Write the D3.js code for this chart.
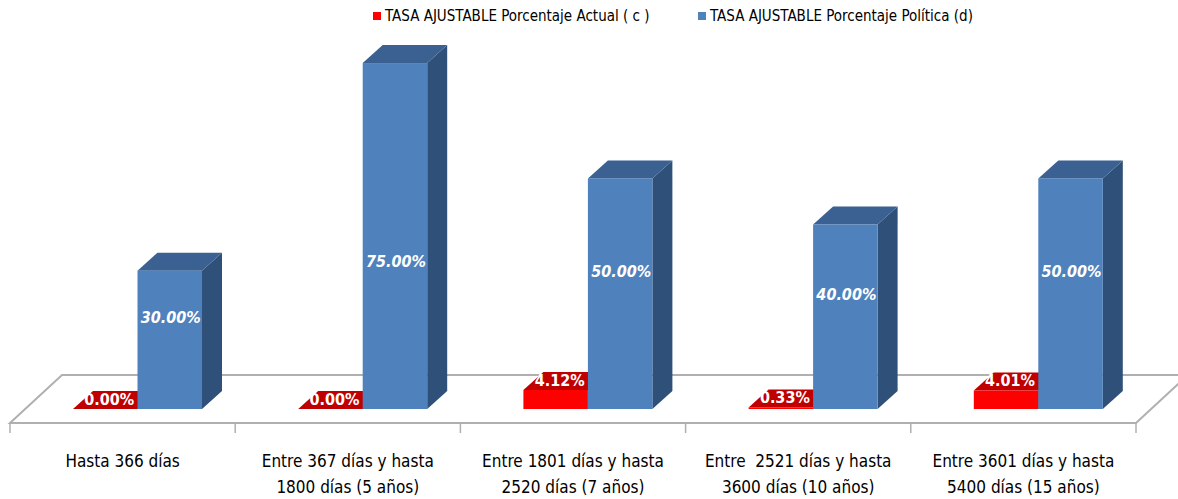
<!DOCTYPE html>
<html>
<head>
<meta charset="utf-8">
<script src="https://cdn.jsdelivr.net/npm/d3@7"></script>
<style>
  body { margin: 0; background: #fff; }
  svg { display: block; }
</style>
</head>
<body>
<svg id="chart" width="1178" height="499"></svg>
<script>
// values
var categories = [
  "Hasta 366 días",
  "Entre 367 días y hasta\n1800 días (5 años)",
  "Entre 1801 días y hasta\n2520 días (7 años)",
  "Entre  2521 días y hasta\n3600 días (10 años)",
  "Entre 3601 días y hasta\n5400 días (15 años)"
];
var seriesNames = ["TASA AJUSTABLE Porcentaje Actual ( c )", "TASA AJUSTABLE Porcentaje Política (d)"];
var actual = [0, 0, 0.0412, 0.0033, 0.0401];
var politica = [0.30, 0.75, 0.50, 0.40, 0.50];

var width = 1178, height = 499;
var depthX = 20, depthY = -18;      // bar depth offset
var floorDX = 52, floorDY = -48;    // floor depth offset
var floorFront = 423;
var font = "'DejaVu Sans Condensed', 'Liberation Sans Narrow', sans-serif";

var svg = d3.select("#chart");

var x = d3.scaleBand().domain(categories).range([10, 1136]);
var xs = d3.scaleBand().domain(seriesNames).range([63, 192]);
var y = d3.scaleLinear().domain([0, 0.8]).range([409, 40]);

var colors = {};
colors[seriesNames[0]] = { front: "#ff0000", side: "#a50000", top: "#c00000" };
colors[seriesNames[1]] = { front: "#4f81bd", side: "#2f5078", top: "#3b6193" };

// floor
var fx0 = x.range()[0], fx1 = x.range()[1];
svg.append("path")
  .attr("d", "M" + fx0 + "," + floorFront + "L" + fx1 + "," + floorFront +
    "L" + (fx1 + floorDX) + "," + (floorFront + floorDY) +
    "L" + (fx0 + floorDX) + "," + (floorFront + floorDY) + "Z")
  .attr("fill", "#fff")
  .attr("stroke", "#b0b0b0")
  .attr("stroke-width", 2);

// ticks under the floor
svg.selectAll(".tick")
  .data(categories.map(function(c){ return x(c); }).concat([fx1]))
  .enter().append("line")
  .attr("x1", function(d){ return d; })
  .attr("x2", function(d){ return d; })
  .attr("y1", floorFront)
  .attr("y2", floorFront + 10)
  .attr("stroke", "#b0b0b0")
  .attr("stroke-width", 1.5);

// bars
var rows = [];
categories.forEach(function(c, i){
  rows.push({ cat: c, s: seriesNames[0], v: actual[i] });
  rows.push({ cat: c, s: seriesNames[1], v: politica[i] });
});

var bar = svg.selectAll(".bar").data(rows).enter().append("g").attr("class", "bar");

bar.each(function(d){
  var g = d3.select(this);
  var x0 = x(d.cat) + xs(d.s), x1 = x0 + xs.bandwidth();
  var yt = y(d.v), yb = y(0);
  var c = colors[d.s];
  // side
  g.append("path")
    .attr("d", "M" + x1 + "," + yb + "L" + (x1 + depthX) + "," + (yb + depthY) +
      "L" + (x1 + depthX) + "," + (yt + depthY) + "L" + x1 + "," + yt + "Z")
    .attr("fill", c.side);
  // top
  g.append("path")
    .attr("d", "M" + x0 + "," + yt + "L" + x1 + "," + yt +
      "L" + (x1 + depthX) + "," + (yt + depthY) + "L" + (x0 + depthX) + "," + (yt + depthY) + "Z")
    .attr("fill", c.top);
  // front
  g.append("rect")
    .attr("x", x0).attr("y", yt)
    .attr("width", xs.bandwidth()).attr("height", yb - yt)
    .attr("fill", c.front);
});

// data labels
bar.append("text")
  .attr("x", function(d){
    var cx = x(d.cat) + xs(d.s) + xs.bandwidth() / 2;
    return d.s === seriesNames[0] ? cx + 4 : cx + 1;
  })
  .attr("y", function(d){
    if (d.s === seriesNames[0]) return y(d.v) - 10;
    return Math.max(y(d.v / 2) - 22, 261);
  })
  .attr("dy", "0.35em")
  .attr("text-anchor", "middle")
  .attr("fill", "#fff")
  .style("font-family", font)
  .style("font-weight", "bold")
  .style("font-style", function(d){ return d.s === seriesNames[1] ? "italic" : "normal"; })
  .style("font-size", function(d){ return d.s === seriesNames[1] ? "16px" : "16px"; })
  .text(function(d){ return (d.v * 100).toFixed(2) + "%"; });

// category labels
svg.selectAll(".cat")
  .data(categories)
  .enter().append("text")
  .attr("class", "cat")
  .attr("text-anchor", "middle")
  .style("font-family", font)
  .style("font-size", "17px")
  .style("white-space", "pre")
  .attr("fill", "#000")
  .each(function(d){
    var t = d3.select(this);
    d.split("\n").forEach(function(line, i){
      t.append("tspan")
        .attr("x", x(d) + x.bandwidth() / 2)
        .attr("y", 467 + i * 26)
        .text(line);
    });
  });

// legend
var legendX = [373, 698];
var legend = svg.selectAll(".legend")
  .data(seriesNames)
  .enter().append("g")
  .attr("transform", function(d, i){ return "translate(" + legendX[i] + ",12)"; });

legend.append("rect")
  .attr("width", 8).attr("height", 8)
  .attr("fill", function(d){ return colors[d].front; });

legend.append("text")
  .attr("x", 12).attr("y", 4)
  .attr("dy", "0.35em")
  .style("font-family", font)
  .style("font-size", "15px")
  .attr("fill", "#000")
  .text(function(d){ return d; });
</script>
</body>
</html>
